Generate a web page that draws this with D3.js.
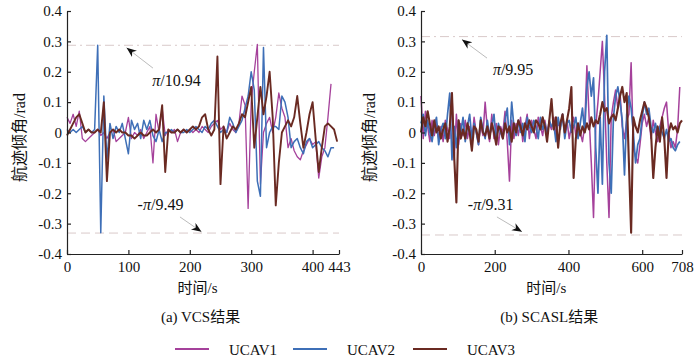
<!DOCTYPE html>
<html lang="zh">
<head>
<meta charset="UTF-8" />
<script src="https://d3js.org/d3.v7.min.js"></script>
<style>
  body { margin: 0; background: #fff; }
  svg { font-family: "Liberation Serif", "Times New Roman", "Noto Sans CJK SC", serif; }
</style>
</head>
<body>
<svg id="chart" width="700" height="364"></svg>
<script>
// series
const seriesNames = ["UCAV1", "UCAV2", "UCAV3"];
const seriesColors = ["#a5419b", "#3e6fb7", "#6a2a22"];
const yTicks = [-0.4, -0.3, -0.2, -0.1, 0, 0.1, 0.2, 0.3, 0.4];

// (a) VCS, sampled every 5 s
const timeA = d3.range(0, 441, 5);
const xTicksA = [0, 100, 200, 300, 400, 443];
const ucav1A = [
  0.05, 0.03, 0.06, 0.02, 0.07, -0.02, -0.03, -0.02, -0.01, 0.00,
  0.01, -0.01, 0.00, -0.02, 0.00, 0.01, -0.03, -0.02, -0.01, 0.00,
  0.05, -0.02, 0.00, -0.01, 0.01, -0.02, 0.00, 0.02, -0.10, 0.06,
  0.00, 0.08, -0.01, 0.01, 0.00, 0.01, -0.03, 0.00, 0.01, 0.00,
  0.01, 0.00, 0.01, 0.00, 0.02, 0.01, 0.00, 0.02, 0.03, 0.04,
  0.01, 0.02, 0.00, 0.03, 0.01, 0.00, 0.03, 0.12, 0.09, -0.25,
  0.10, 0.20, 0.29, -0.17, 0.00, 0.03, 0.05, 0.00, 0.05, 0.13,
  0.08, 0.05, -0.05, -0.02, -0.06, -0.08, -0.09, -0.06, -0.04, -0.02,
  -0.04, -0.03, -0.15, -0.08, -0.05, 0.05, 0.16, null, null
];
const ucav2A = [
  0.01, 0.00, 0.01, 0.00, 0.01, 0.02, 0.00, 0.01, 0.00, 0.01,
  0.287, -0.33, 0.12, -0.09, 0.03, -0.02, 0.02, 0.00, 0.03, -0.02,
  -0.07, 0.04, 0.01, 0.03, -0.02, 0.04, 0.01, 0.04, -0.01, -0.03,
  0.01, -0.03, 0.00, 0.00, 0.01, 0.00, 0.01, 0.00, 0.00, 0.01,
  0.00, 0.01, 0.02, 0.01, 0.00, 0.02, 0.01, 0.03, 0.04, 0.02,
  0.00, 0.01, 0.00, 0.05, 0.03, 0.00, 0.02, 0.04, 0.08, 0.12,
  0.20, 0.14, -0.16, -0.21, 0.28, -0.05, 0.00, 0.02, 0.02, 0.01,
  0.12, 0.10, 0.05, -0.05, -0.03, -0.02, -0.05, -0.07, -0.03, -0.02,
  -0.05, -0.04, -0.03, -0.05, -0.06, -0.08, -0.05, -0.05, null
];
const ucav3A = [
  -0.01, 0.01, 0.03, 0.05, 0.06, 0.03, 0.00, 0.01, 0.00, 0.00,
  0.01, 0.00, 0.10, -0.16, 0.00, 0.01, 0.00, 0.01, 0.00, 0.00,
  -0.01, -0.01, -0.02, -0.01, 0.00, -0.01, -0.01, 0.00, 0.01, 0.00,
  0.01, 0.09, -0.13, 0.01, 0.00, 0.00, 0.01, 0.00, 0.01, 0.00,
  0.01, 0.02, 0.01, 0.02, 0.05, 0.06, 0.01, -0.01, 0.01, 0.25,
  -0.17, 0.02, -0.02, 0.00, 0.02, 0.01, 0.03, 0.06, 0.05, 0.10,
  0.15, -0.05, 0.05, 0.15, 0.06, 0.12, 0.20, 0.05, -0.24, -0.10,
  0.00, 0.02, 0.04, 0.02, 0.05, 0.12, 0.03, -0.05, 0.00, 0.06,
  0.10, -0.02, -0.13, -0.05, 0.02, 0.03, 0.02, 0.01, -0.03
];

// (b) SCASL, sampled every 6 s
const timeB = d3.range(0, 709, 6);
const xTicksB = [0, 200, 400, 600, 708];
const ucav1B = [
  0.12, -0.02, 0.07, 0.02, -0.03, 0.04, -0.01, 0.03, -0.02, 0.02,
  -0.03, 0.04, 0.01, -0.02, 0.13, -0.09, 0.06, -0.04, 0.03, -0.01,
  0.04, -0.02, 0.02, -0.03, 0.05, 0.00, -0.04, 0.03, -0.01, 0.10,
  0.01, -0.03, 0.06, -0.02, 0.03, -0.04, 0.02, 0.00, 0.07, -0.03,
  -0.16, 0.04, -0.02, 0.03, -0.01, 0.05, -0.03, 0.02, 0.06, -0.02,
  0.04, 0.01, -0.02, 0.05, 0.02, -0.01, 0.04, 0.00, 0.03, 0.01,
  0.05, -0.01, 0.03, 0.02, 0.06, 0.00, 0.04, -0.02, 0.02, 0.05,
  -0.01, 0.03, 0.00, -0.03, 0.02, 0.22, 0.05, -0.10, -0.28, 0.02,
  0.10, 0.20, 0.30, 0.12, -0.10, -0.28, 0.05, 0.10, 0.14, 0.08,
  0.13, 0.02, -0.02, 0.04, 0.06, 0.23, -0.05, -0.08, -0.10, -0.04,
  0.03, 0.06, 0.02, 0.05, -0.02, 0.04, 0.00, -0.03, 0.02, 0.05,
  0.08, 0.10, 0.00, -0.05, -0.03, -0.05, 0.01, 0.15, null
];
const ucav2B = [
  0.03, 0.06, -0.01, 0.04, 0.00, -0.03, 0.02, 0.05, -0.04, 0.01,
  0.03, -0.02, 0.06, 0.13, -0.09, 0.02, -0.05, 0.04, 0.00, 0.05,
  -0.03, 0.02, 0.06, -0.02, 0.03, 0.00, -0.04, 0.05, 0.01, -0.02,
  0.04, -0.01, 0.02, 0.06, -0.03, 0.03, 0.00, -0.02, 0.04, 0.08,
  -0.04, 0.10, 0.02, -0.01, 0.04, 0.00, 0.03, -0.03, 0.05, 0.02,
  0.00, 0.04, 0.02, -0.02, 0.05, 0.01, 0.03, -0.01, 0.04, 0.02,
  0.03, -0.03, 0.05, 0.01, 0.06, -0.02, 0.03, 0.04, 0.00, 0.02,
  0.05, -0.02, 0.03, 0.08, 0.00, 0.15, 0.20, 0.12, 0.18, -0.05,
  -0.20, 0.05, -0.17, 0.20, 0.32, -0.10, -0.20, 0.05, 0.12, 0.15,
  0.10, 0.04, -0.14, 0.06, 0.12, 0.08, 0.00, -0.10, -0.04, -0.02,
  0.05, 0.10, 0.06, 0.08, 0.02, 0.00, 0.03, -0.01, 0.02, 0.00,
  -0.02, 0.01, -0.03, -0.02, -0.05, -0.06, -0.04, -0.03, null
];
const ucav3B = [
  0.00, 0.05, 0.02, 0.07, 0.03, -0.01, 0.04, 0.00, 0.02, -0.02,
  0.01, 0.03, -0.03, 0.02, 0.13, -0.08, -0.23, 0.04, -0.02, 0.01,
  -0.02, 0.03, 0.00, -0.06, 0.02, 0.01, -0.03, 0.04, 0.00, -0.01,
  0.02, -0.02, 0.03, 0.00, -0.04, 0.02, 0.01, -0.02, 0.03, 0.00,
  0.02, -0.03, 0.03, 0.00, 0.04, 0.02, -0.01, 0.03, 0.01, 0.04,
  0.02, 0.00, 0.04, 0.03, 0.01, 0.05, 0.02, -0.03, 0.04, 0.11,
  0.01, 0.05, -0.05, 0.03, 0.06, 0.00, 0.04, 0.08, 0.15, -0.15,
  -0.02, 0.03, -0.01, 0.02, 0.00, 0.03, 0.01, 0.05, 0.02, 0.04,
  0.03, 0.06, 0.10, 0.07, 0.08, 0.03, 0.05, 0.06, 0.04, 0.08,
  0.12, 0.15, 0.10, 0.13, -0.10, -0.33, 0.05, 0.02, 0.00, 0.04,
  0.07, 0.10, 0.08, 0.05, 0.00, -0.15, -0.05, 0.02, -0.03, 0.05,
  -0.02, -0.15, 0.00, 0.03, 0.01, 0.02, 0.00, 0.03, 0.04
];

const panels = [
  {
    time: timeA, series: [ucav1A, ucav2A, ucav3A], xMax: 443, xTicks: xTicksA,
    left: 67, right: 339, titleX: 19, caption: "(a) VCS结果", widths: [1.3, 1.5, 1.9],
    upper: Math.PI / 10.94, lower: -Math.PI / 9.49, upLabel: "/10.94", lowLabel: "/9.49",
    // annotation anchors in data units: [text, tail, tip]
    upNote: [[139, 0.153], [140, 0.212], [97, 0.279]],
    lowNote: [[115, -0.255], [184, -0.278], [219, -0.327]]
  },
  {
    time: timeB, series: [ucav1B, ucav2B, ucav3B], xMax: 708, xTicks: xTicksB,
    left: 421, right: 682, titleX: 369, caption: "(b) SCASL结果", widths: [1.5, 1.7, 2.1],
    upper: Math.PI / 9.95, lower: -Math.PI / 9.31, upLabel: "/9.95", lowLabel: "/9.31",
    upNote: [[195, 0.189], [179, 0.245], [111, 0.306]],
    lowNote: [[127, -0.255], [206, -0.278], [274, -0.327]]
  }
];

const yTop = 11, yBottom = 254;
const svg = d3.select("#chart");
svg.append("rect").attr("width", 700).attr("height", 364).attr("fill", "#fff");

svg.append("defs").append("marker")
  .attr("id", "arrow")
  .attr("markerUnits", "userSpaceOnUse")
  .attr("markerWidth", 12).attr("markerHeight", 10)
  .attr("refX", 10).attr("refY", 4)
  .attr("orient", "auto")
  .append("path")
  .attr("d", "M0,0 L10,4 L0,8 L3,4 Z")
  .attr("fill", "#111");

panels.forEach(p => {
  const x = d3.scaleLinear().domain([0, p.xMax]).range([p.left, p.right]);
  const y = d3.scaleLinear().domain([-0.4, 0.4]).range([yBottom, yTop]);
  const g = svg.append("g");

  // limit lines
  g.append("line")
    .attr("x1", x(0)).attr("x2", x(p.xMax))
    .attr("y1", y(p.upper)).attr("y2", y(p.upper))
    .attr("stroke", "#d9c9c9").attr("stroke-width", 1)
    .attr("stroke-dasharray", "9,4,2,4");
  g.append("line")
    .attr("x1", x(0)).attr("x2", x(p.xMax))
    .attr("y1", y(p.lower)).attr("y2", y(p.lower))
    .attr("stroke", "#d9c9c9").attr("stroke-width", 1)
    .attr("stroke-dasharray", "9,5");

  // series
  p.series.forEach((vals, k) => {
    const line = d3.line()
      .defined(d => d[1] !== null)
      .x(d => x(d[0])).y(d => y(d[1]));
    g.append("path")
      .datum(p.time.map((t, i) => [Math.min(t, p.xMax), vals[i]]))
      .attr("fill", "none")
      .attr("stroke", seriesColors[k])
      .attr("stroke-width", p.widths[k])
      .attr("stroke-linejoin", "round")
      .attr("d", line);
  });

  // axes
  const yAxis = d3.axisLeft(y).tickValues(yTicks)
    .tickSizeInner(-4).tickSizeOuter(0).tickPadding(5)
    .tickFormat(d => d === 0 ? "0" : d.toFixed(1));
  const ya = g.append("g").attr("transform", `translate(${x(0)},0)`).call(yAxis);
  const xAxis = d3.axisBottom(x).tickValues(p.xTicks)
    .tickSizeInner(-4).tickSizeOuter(0).tickPadding(7)
    .tickFormat(d => d);
  const xa = g.append("g").attr("transform", `translate(0,${yBottom})`).call(xAxis);
  [ya, xa].forEach(a => {
    a.selectAll("path, line").attr("stroke", "#222").attr("stroke-width", 1.2);
    a.selectAll("text").attr("font-size", 15).attr("fill", "#111")
      .attr("font-family", "'Liberation Serif', 'Times New Roman', serif");
  });

  // annotations
  [[p.upNote, "", p.upLabel], [p.lowNote, "-", p.lowLabel]].forEach(([n, pre, lab]) => {
    g.append("line")
      .attr("x1", x(n[1][0])).attr("y1", y(n[1][1]))
      .attr("x2", x(n[2][0])).attr("y2", y(n[2][1]))
      .attr("stroke", "#aaa").attr("stroke-width", 0.8)
      .attr("marker-end", "url(#arrow)");
    const t = g.append("text")
      .attr("x", x(n[0][0])).attr("y", y(n[0][1]))
      .attr("font-size", 16).attr("fill", "#111");
    t.append("tspan").text(pre);
    t.append("tspan").attr("font-style", "italic").text("π");
    t.append("tspan").text(lab);
  });

  // titles
  svg.append("text")
    .attr("transform", `translate(${p.titleX},${(yTop + yBottom) / 2 + 5}) rotate(-90)`)
    .attr("text-anchor", "middle").attr("dominant-baseline", "central")
    .attr("font-size", 16).attr("fill", "#111")
    .text("航迹倾角/rad");
  svg.append("text")
    .attr("x", p.left + (p.right - p.left) * 0.48).attr("y", 293)
    .attr("text-anchor", "middle").attr("font-size", 15).attr("fill", "#111")
    .text("时间/s");
  svg.append("text")
    .attr("x", p.left + (p.right - p.left) * 0.48 + 3).attr("y", 322)
    .attr("text-anchor", "middle").attr("font-size", 15).attr("fill", "#111")
    .text(p.caption);
});

// legend
const legendX = [175, 293, 413];
seriesNames.forEach((name, k) => {
  svg.append("line")
    .attr("x1", legendX[k]).attr("x2", legendX[k] + 34)
    .attr("y1", 349).attr("y2", 349)
    .attr("stroke", seriesColors[k]).attr("stroke-width", 2);
  svg.append("text")
    .attr("x", legendX[k] + 54).attr("y", 355)
    .attr("font-size", 15).attr("fill", "#111")
    .text(name);
});
</script>
</body>
</html>
